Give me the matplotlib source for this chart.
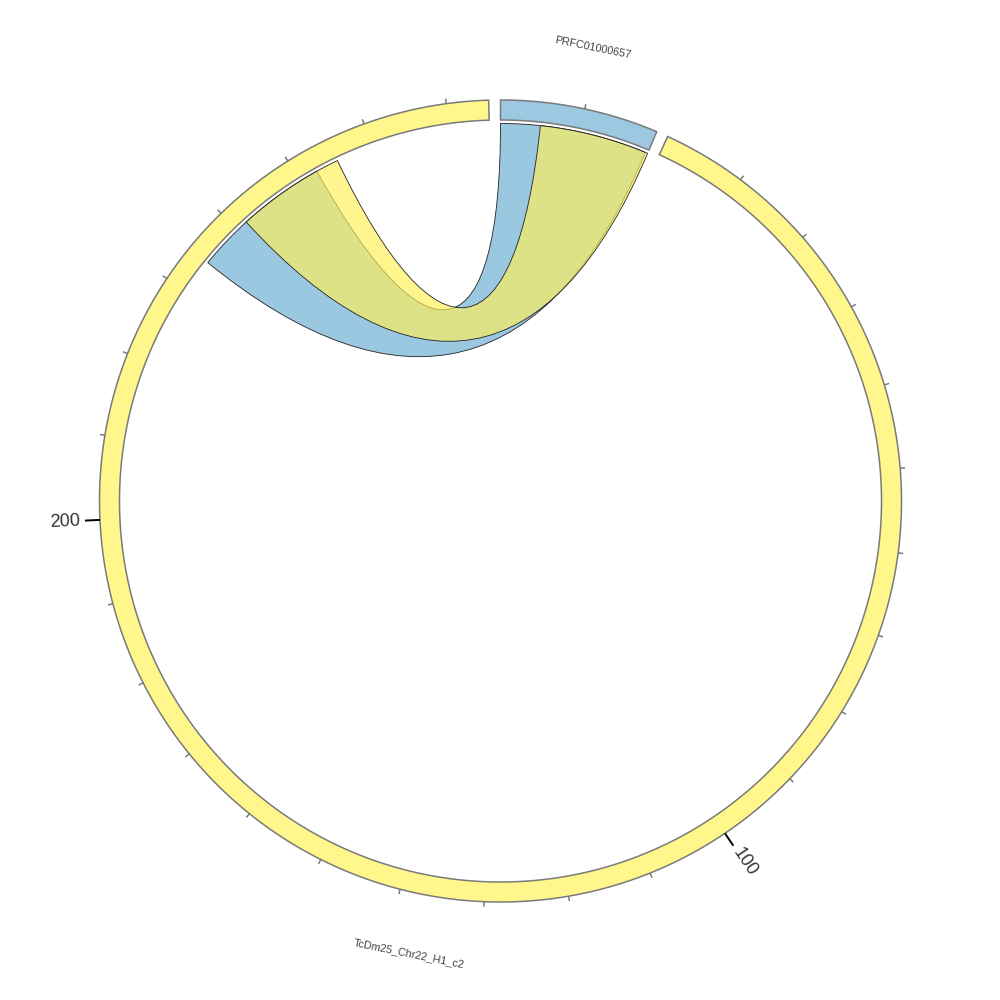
import numpy as np
import matplotlib
matplotlib.use("Agg")
import matplotlib.pyplot as plt
from matplotlib.path import Path
from matplotlib.patches import PathPatch, Polygon
from matplotlib.colors import to_rgba

# ---------------- data ----------------
seg_names = ["PRFC01000657", "TcDm25_Chr22_H1_c2"]
seg_lengths = [18.9, 275.0]          # kb
seg_colors = ["#9CC8E2", "#FFF68C"]

# links: (source segment interval) <-> (target segment interval), kb
link_src_seg = [0, 0]
link_src_start = [0.0, 5.0]
link_src_end = [18.6, 18.9]
link_dst_seg = [1, 1]
link_dst_start = [234.5, 241.5]
link_dst_end = [252.4, 255.3]
link_colors = ["#68ACD2", "#FFF155"]

tick_step = 10
labeled_ticks = [100, 200]

# ---------------- layout / style ----------------
CX, CY = 500.5, 501.0
R_IN, R_OUT = 381.0, 401.0
R_LINK = 377.5
GAP = 1.7
START = 0.0
LINK_ALPHA = 0.66

unit = (360.0 - GAP * len(seg_lengths)) / sum(seg_lengths)
seg_start = []
acc = START
for L in seg_lengths:
    seg_start.append(acc)
    acc += L * unit + GAP


def ang(seg, pos):
    return seg_start[seg] + pos * unit


def pt(a_deg, r):
    a = np.radians(a_deg)
    return (CX + r * np.sin(a), CY - r * np.cos(a))


def arc(a0, a1, r):
    n = max(2, int(abs(a1 - a0) / 0.25) + 2)
    return [pt(a, r) for a in np.linspace(a0, a1, n)]


fig = plt.figure(figsize=(10, 10), dpi=100)
ax = fig.add_axes([0, 0, 1, 1])
ax.set_xlim(0, 1000)
ax.set_ylim(1000, 0)
ax.set_aspect("equal")
ax.axis("off")

FONT = ["Liberation Sans", "DejaVu Sans"]

# ---------------- ideogram ring ----------------
for i, L in enumerate(seg_lengths):
    a0, a1 = ang(i, 0), ang(i, L)
    verts = arc(a0, a1, R_OUT) + arc(a1, a0, R_IN)
    ax.add_patch(Polygon(verts, closed=True, facecolor=seg_colors[i],
                         edgecolor="#7a7a7a", lw=1.1, joinstyle="miter", zorder=3))
    # ticks
    v = tick_step
    while v < L:
        a = ang(i, v)
        if v in labeled_ticks:
            p0, p1 = pt(a, R_OUT), pt(a, R_OUT + 15)
            ax.plot([p0[0], p1[0]], [p0[1], p1[1]], color="black", lw=1.4,
                    solid_capstyle="butt", zorder=4)
            m = 90.0 - a
            m = (m + 180) % 360 - 180
            px, py = pt(a, R_OUT + 20)
            if np.cos(np.radians(m)) >= 0:
                rot, ha = m, "left"
            else:
                rot, ha = m + 180, "right"
            ax.text(px, py, f"{v}", rotation=rot, rotation_mode="anchor",
                    ha=ha, va="center", fontsize=13, color="#333333",
                    family=FONT, zorder=5)
        else:
            p0, p1 = pt(a, R_OUT), pt(a, R_OUT + 5)
            ax.plot([p0[0], p1[0]], [p0[1], p1[1]], color="#707070", lw=1.0,
                    solid_capstyle="butt", zorder=4)
        v += tick_step
    # segment name
    am = ang(i, L / 2)
    px, py = pt(am, 462)
    rot = -am
    rot = (rot + 90) % 180 - 90
    ax.text(px, py, seg_names[i], rotation=rot, rotation_mode="anchor",
            ha="center", va="center", fontsize=7.8, color="#444444",
            family=FONT, zorder=5)


# ---------------- links ----------------
def ctrl_frac(a, b):
    d = abs((b - a + 180) % 360 - 180)
    return 0.42 - 0.001 * d


for k in range(len(link_colors)):
    a1 = ang(link_src_seg[k], link_src_start[k])
    a2 = ang(link_src_seg[k], link_src_end[k])
    b1 = ang(link_dst_seg[k], link_dst_start[k])
    b2 = ang(link_dst_seg[k], link_dst_end[k])
    verts, codes = [], []
    sa = arc(a1, a2, R_LINK)
    verts += sa
    codes += [Path.MOVETO] + [Path.LINETO] * (len(sa) - 1)
    s = ctrl_frac(a2, b1)
    verts += [pt(a2, s * R_LINK), pt(b1, s * R_LINK), pt(b1, R_LINK)]
    codes += [Path.CURVE4] * 3
    sb = arc(b1, b2, R_LINK)[1:]
    verts += sb
    codes += [Path.LINETO] * len(sb)
    s = ctrl_frac(b2, a1)
    verts += [pt(b2, s * R_LINK), pt(a1, s * R_LINK), pt(a1, R_LINK)]
    codes += [Path.CURVE4] * 3
    verts.append(pt(a1, R_LINK))
    codes.append(Path.CLOSEPOLY)
    ax.add_patch(PathPatch(Path(verts, codes),
                           facecolor=to_rgba(link_colors[k], LINK_ALPHA),
                           edgecolor="#222222", lw=0.6, zorder=2 + k * 0.1))

fig.savefig("out.png", dpi=100, facecolor="white")
